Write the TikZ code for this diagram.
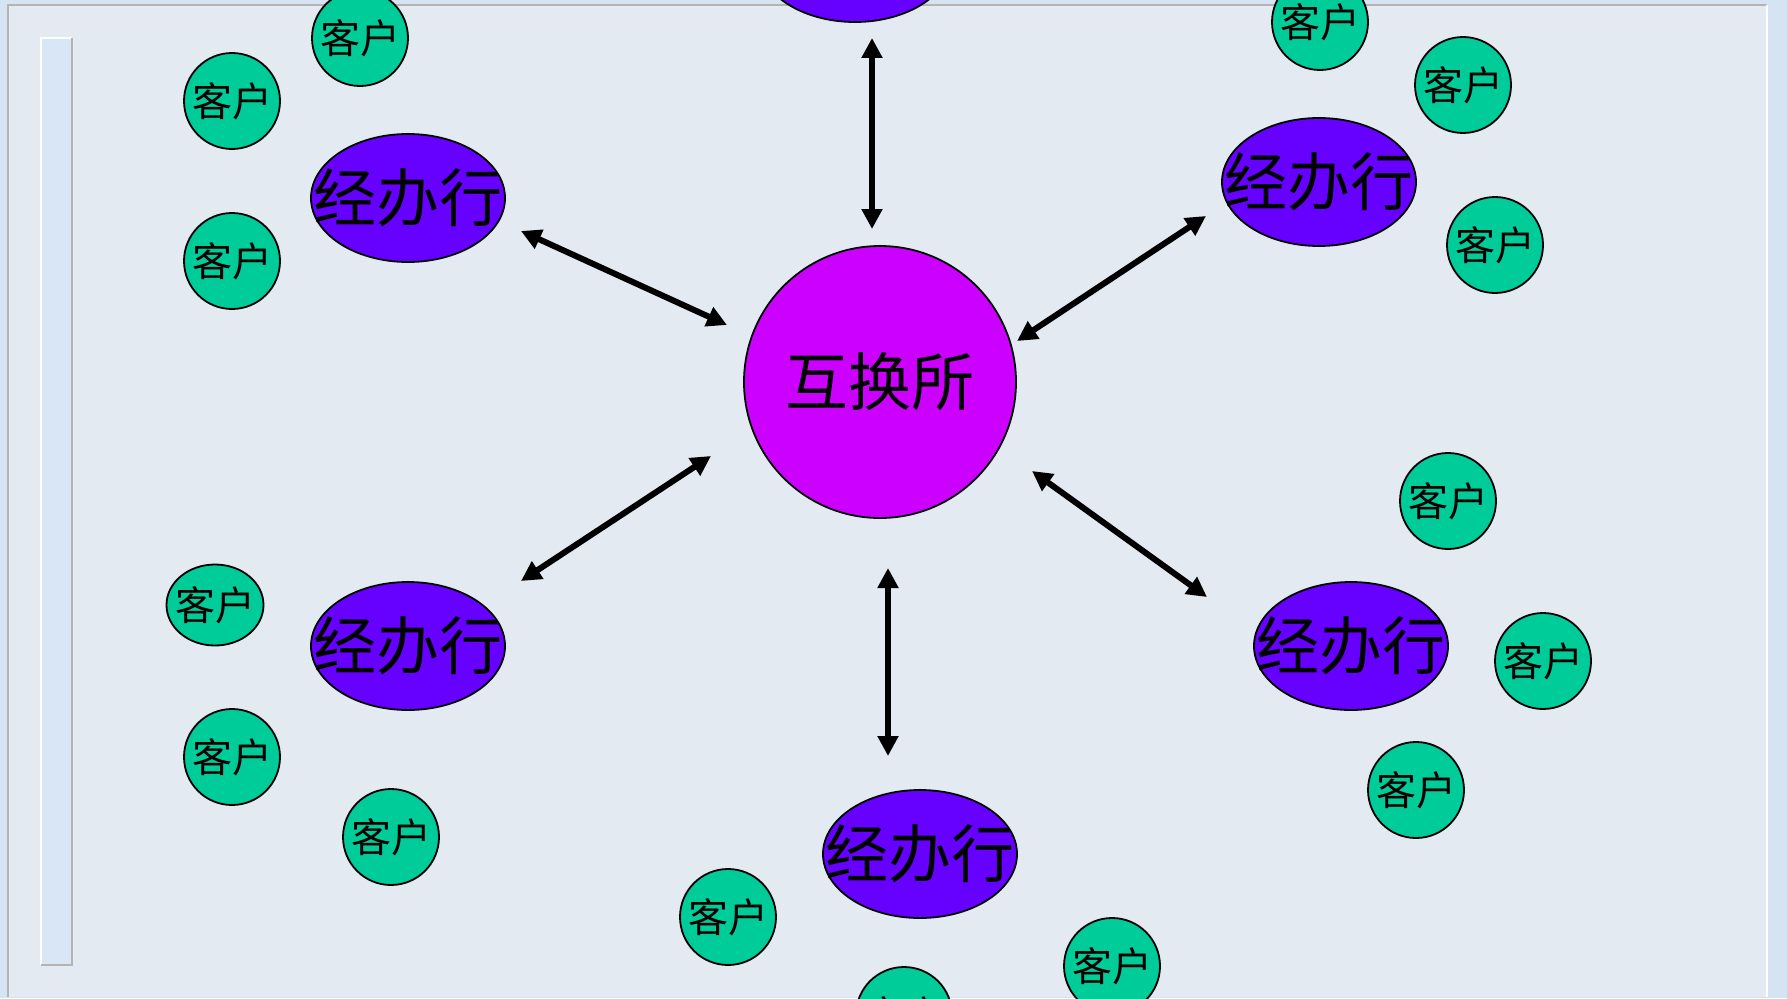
\documentclass[tikz,border=0pt]{standalone}
\usepackage{fontspec}
\newfontfamily\cjk{Noto Sans CJK SC}
\usetikzlibrary{shapes.geometric,arrows.meta}
\definecolor{bgout}{HTML}{D5E3F3}
\definecolor{bgin}{HTML}{E3EAF2}
\definecolor{stripfill}{HTML}{D8E6F6}
\definecolor{framegray}{HTML}{B4B4B4}
\definecolor{clientgreen}{HTML}{00CC99}
\definecolor{bankviolet}{HTML}{6600FF}
\definecolor{exmagenta}{HTML}{CC00FF}
\tikzset{
  client/.style={circle, draw=black, line width=1.8pt, fill=clientgreen, minimum size=96pt, inner sep=0pt,
    font=\cjk\fontsize{40}{40}\selectfont},
  clienttext/.style={inner sep=0pt, font=\cjk\fontsize{40}{40}\selectfont},
  bank/.style={ellipse, draw=black, line width=1.8pt, fill=bankviolet, minimum width=194pt, minimum height=128pt, inner sep=0pt},
  banktext/.style={inner sep=0pt, font=\cjk\fontsize{63}{63}\selectfont},
  exch/.style={circle, draw=black, line width=1.8pt, fill=exmagenta, minimum size=272pt, inner sep=0pt,
    font=\cjk\fontsize{63}{63}\selectfont},
  dbl/.style={line width=6pt, {Triangle[length=20pt,width=20pt]}-{Triangle[length=20pt,width=20pt]}}
}
\begin{document}
\begin{tikzpicture}[x=1pt,y=-1pt]
\useasboundingbox (0,0) rectangle (1787,998);
\clip (0,0) rectangle (1787,998);
% background and frame
\fill[bgout] (0,0) rectangle (1787,998);
\fill[bgin] (8,5) rectangle (1767,997);
\draw[framegray, line width=2.5pt] (8,997) -- (8,5) -- (1767,5);
\draw[white, line width=2pt] (1767,5) -- (1767,997);
% left strip
\fill[stripfill] (40,37) rectangle (72,965);
\draw[white, line width=2pt] (41,965) -- (41,38) -- (72,38);
\draw[framegray, line width=2pt] (72,38) -- (72,965) -- (41,965);

% exchange
\node[exch] (ex) at (880,382) {互换所};

% banks
\node[bank] (bt) at (855,-42) {};
\node[bank] (btl) at (408,198) {};
\node[banktext] (btlt) at (btl) {经办行};
\node[bank] (btr) at (1319,182) {};
\node[banktext] (btrt) at (btr) {经办行};
\node[bank] (bbl) at (408,646) {};
\node[banktext] (bblt) at (bbl) {经办行};
\node[bank] (bbr) at (1351,646) {};
\node[banktext] (bbrt) at (bbr) {经办行};
\node[bank] (bb) at (920,854) {};
\node[banktext] (bbt) at (bb) {经办行};

% clients
\node[client] (c1) at (360,38) {客户};
\node[client] (c2) at (232,101) {客户};
\node[client] (c3) at (232,261) {客户};
\node[client] (c4) at (1320,22) {客户};
\node[client] (c5) at (1463,85) {客户};
\node[client] (c6) at (1495,245) {客户};
\node[client] (c7) at (1448,501) {客户};
\node[client] (c8) at (1543,661) {客户};
\node[client] (c9) at (1416,790) {客户};
\node[client] (c10) at (728,917) {客户};
\node[client] (c11) at (904,1015) {客户};
\node[client] (c12) at (1112,966) {客户};
\node[client, ellipse, minimum width=97pt, minimum height=81pt] (c13) at (215,605) {};
\node[clienttext] (c13t) at (c13) {客户};
\node[client] (c14) at (232,757) {客户};
\node[client] (c15) at (391,837) {客户};

% arrow ends
\coordinate (aT1) at (872,38);   \coordinate (aT2) at (872,229);
\coordinate (aTL1) at (521,231); \coordinate (aTL2) at (727,325);
\coordinate (aTR1) at (1206,216); \coordinate (aTR2) at (1017,341);
\coordinate (aBL1) at (711,456); \coordinate (aBL2) at (521,581);
\coordinate (aBR1) at (1032,471); \coordinate (aBR2) at (1207,597);
\coordinate (aB1) at (888,568);  \coordinate (aB2) at (888,756);

\draw[dbl] (aT1) -- (aT2);
\draw[dbl] (aTL1) -- (aTL2);
\draw[dbl] (aTR1) -- (aTR2);
\draw[dbl] (aBL1) -- (aBL2);
\draw[dbl] (aBR1) -- (aBR2);
\draw[dbl] (aB1) -- (aB2);
\end{tikzpicture}
\end{document}
